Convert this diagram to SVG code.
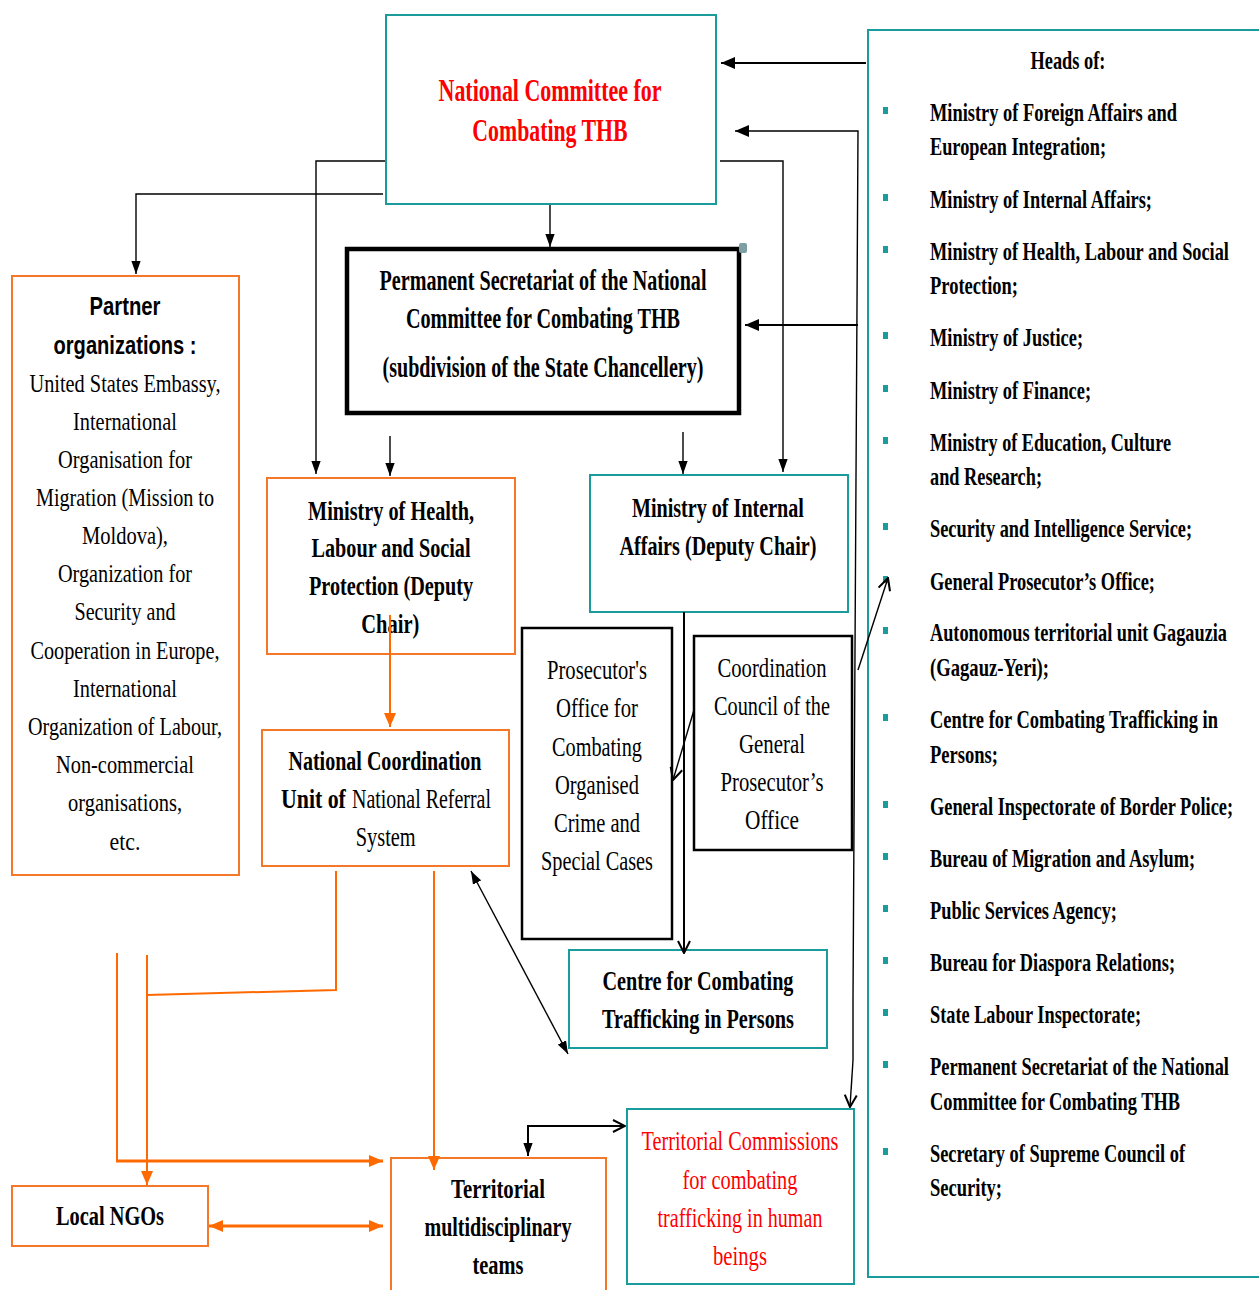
<svg xmlns="http://www.w3.org/2000/svg" width="1259" height="1290" viewBox="0 0 1259 1290">
<style>
text{font-family:"Liberation Serif","Times New Roman",serif;}
.b{font-weight:bold;}
.c{text-anchor:middle;}
.sans{font-family:"Liberation Sans",Arial,sans-serif;font-weight:bold;}
.red{fill:#ff0000;}
.teal{fill:#fff;stroke:#1a9c9c;stroke-width:2;}
.org{fill:#fff;stroke:#f5782a;stroke-width:2;}
.blk{fill:#fff;stroke:#000;stroke-width:2.5;}
.bul{fill:#1a9c9c;}
.k{stroke:#000;fill:none;stroke-width:2;}
.k1{stroke:#000;fill:none;stroke-width:1.4;}
.o{stroke:#ff6a00;fill:none;stroke-width:2;}
.o3{stroke:#ff6a00;fill:none;stroke-width:3;}
</style>
<defs>
<marker id="ab" viewBox="0 0 14 12" refX="14" refY="6" markerWidth="14" markerHeight="12" markerUnits="userSpaceOnUse" orient="auto-start-reverse"><path d="M0,0 L14,6 L0,12 z" fill="#000"/></marker>
<marker id="abs" viewBox="0 0 14 10" refX="14" refY="5" markerWidth="13" markerHeight="10" markerUnits="userSpaceOnUse" orient="auto-start-reverse"><path d="M0,0 L14,5 L0,10 z" fill="#000"/></marker>
<marker id="av" viewBox="0 0 14 14" refX="13" refY="7" markerWidth="14" markerHeight="14" markerUnits="userSpaceOnUse" orient="auto"><path d="M1,1 L13,7 L1,13" fill="none" stroke="#000" stroke-width="2"/></marker>
<marker id="ao" viewBox="0 0 14 12" refX="14" refY="6" markerWidth="14" markerHeight="12" markerUnits="userSpaceOnUse" orient="auto-start-reverse"><path d="M0,0 L14,6 L0,12 z" fill="#ff6a00"/></marker>
</defs>

<g id="national-committee">
<rect class="teal" x="386" y="15" width="330" height="189"/>
<g class="b c red" font-size="32" transform="matrix(0.69 0 0 1 170.5 0)">
<text x="550" y="101" textLength="323" lengthAdjust="spacingAndGlyphs">National Committee for</text>
<text x="550" y="141" textLength="225" lengthAdjust="spacingAndGlyphs">Combating THB</text>
</g>
</g>

<g id="permanent-secretariat">
<rect x="347" y="249" width="392" height="164" fill="#fff" stroke="#000" stroke-width="4.5"/>
<rect x="739" y="243" width="8" height="10" rx="2" fill="#7d9fa3"/>
<g class="b c" font-size="30" transform="matrix(0.67 0 0 1 179.2 0)">
<text x="543" y="290" textLength="488" lengthAdjust="spacingAndGlyphs">Permanent Secretariat of the National</text>
<text x="543" y="328" textLength="409" lengthAdjust="spacingAndGlyphs">Committee for Combating THB</text>
<text x="543" y="377" textLength="479" lengthAdjust="spacingAndGlyphs">(subdivision of the State Chancellery)</text>
</g>
</g>

<g id="heads-of">
<rect class="teal" x="868" y="30" width="400" height="1247"/>
<text class="b c" x="1068" y="69" font-size="26" transform="matrix(0.7 0 0 1 320.4 0)" textLength="107" lengthAdjust="spacingAndGlyphs">Heads of:</text>
<g class="bul">
<rect x="883" y="107" width="5" height="7"/><rect x="883" y="194" width="5" height="7"/><rect x="883" y="246" width="5" height="7"/><rect x="883" y="332" width="5" height="7"/><rect x="883" y="385" width="5" height="7"/><rect x="883" y="437" width="5" height="7"/><rect x="883" y="523" width="5" height="7"/><rect x="883" y="576" width="5" height="7"/><rect x="883" y="627" width="5" height="7"/><rect x="883" y="714" width="5" height="7"/><rect x="883" y="801" width="5" height="7"/><rect x="883" y="853" width="5" height="7"/><rect x="883" y="905" width="5" height="7"/><rect x="883" y="957" width="5" height="7"/><rect x="883" y="1009" width="5" height="7"/><rect x="883" y="1061" width="5" height="7"/><rect x="883" y="1148" width="5" height="7"/>
</g>
<g class="b" font-size="26" transform="matrix(0.7 0 0 1 279 0)">
<text x="930" y="121" textLength="352.9" lengthAdjust="spacingAndGlyphs">Ministry of Foreign Affairs and</text>
<text x="930" y="155" textLength="251.4" lengthAdjust="spacingAndGlyphs">European Integration;</text>
<text x="930" y="208" textLength="317.1" lengthAdjust="spacingAndGlyphs">Ministry of Internal Affairs;</text>
<text x="930" y="260" textLength="427.1" lengthAdjust="spacingAndGlyphs">Ministry of Health, Labour and Social</text>
<text x="930" y="294" textLength="125.7" lengthAdjust="spacingAndGlyphs">Protection;</text>
<text x="930" y="346" textLength="218.6" lengthAdjust="spacingAndGlyphs">Ministry of Justice;</text>
<text x="930" y="399" textLength="230" lengthAdjust="spacingAndGlyphs">Ministry of Finance;</text>
<text x="930" y="451" textLength="344.3" lengthAdjust="spacingAndGlyphs">Ministry of Education, Culture</text>
<text x="930" y="485" textLength="160" lengthAdjust="spacingAndGlyphs">and Research;</text>
<text x="930" y="537" textLength="374.3" lengthAdjust="spacingAndGlyphs">Security and Intelligence Service;</text>
<text x="930" y="590" textLength="321.4" lengthAdjust="spacingAndGlyphs">General Prosecutor’s Office;</text>
<text x="930" y="641" textLength="424.3" lengthAdjust="spacingAndGlyphs">Autonomous territorial unit Gagauzia</text>
<text x="930" y="676" textLength="170" lengthAdjust="spacingAndGlyphs">(Gagauz-Yeri);</text>
<text x="930" y="728" textLength="411.4" lengthAdjust="spacingAndGlyphs">Centre for Combating Trafficking in</text>
<text x="930" y="763" textLength="97.1" lengthAdjust="spacingAndGlyphs">Persons;</text>
<text x="930" y="815" textLength="432.9" lengthAdjust="spacingAndGlyphs">General Inspectorate of Border Police;</text>
<text x="930" y="867" textLength="378.6" lengthAdjust="spacingAndGlyphs">Bureau of Migration and Asylum;</text>
<text x="930" y="919" textLength="267.1" lengthAdjust="spacingAndGlyphs">Public Services Agency;</text>
<text x="930" y="971" textLength="350" lengthAdjust="spacingAndGlyphs">Bureau for Diaspora Relations;</text>
<text x="930" y="1023" textLength="301.4" lengthAdjust="spacingAndGlyphs">State Labour Inspectorate;</text>
<text x="930" y="1075" textLength="427.1" lengthAdjust="spacingAndGlyphs">Permanent Secretariat of the National</text>
<text x="930" y="1110" textLength="357.1" lengthAdjust="spacingAndGlyphs">Committee for Combating THB</text>
<text x="930" y="1162" textLength="364.3" lengthAdjust="spacingAndGlyphs">Secretary of Supreme Council of</text>
<text x="930" y="1196" textLength="102.9" lengthAdjust="spacingAndGlyphs">Security;</text>
</g>
</g>

<g id="partner-organizations">
<rect class="org" x="12" y="276" width="227" height="599"/>
<g class="c" font-size="25" transform="matrix(0.8 0 0 1 25 0)">
<text class="sans" x="125" y="315" textLength="88.8" lengthAdjust="spacingAndGlyphs">Partner</text>
<text class="sans" x="125" y="354" textLength="178.8" lengthAdjust="spacingAndGlyphs">organizations :</text>
</g>
<g class="c" font-size="26" transform="matrix(0.78 0 0 1 27.5 0)">
<text x="125" y="392" textLength="244.9" lengthAdjust="spacingAndGlyphs">United States Embassy,</text>
<text x="125" y="430" textLength="133.3" lengthAdjust="spacingAndGlyphs">International</text>
<text x="125" y="468" textLength="171.8" lengthAdjust="spacingAndGlyphs">Organisation for</text>
<text x="125" y="506" textLength="228.2" lengthAdjust="spacingAndGlyphs">Migration (Mission to</text>
<text x="125" y="544" textLength="110.3" lengthAdjust="spacingAndGlyphs">Moldova),</text>
<text x="125" y="582" textLength="171.8" lengthAdjust="spacingAndGlyphs">Organization for</text>
<text x="125" y="620" textLength="129.5" lengthAdjust="spacingAndGlyphs">Security and</text>
<text x="125" y="659" textLength="242.3" lengthAdjust="spacingAndGlyphs">Cooperation in Europe,</text>
<text x="125" y="697" textLength="133.3" lengthAdjust="spacingAndGlyphs">International</text>
<text x="125" y="735" textLength="248.7" lengthAdjust="spacingAndGlyphs">Organization of Labour,</text>
<text x="125" y="773" textLength="176.9" lengthAdjust="spacingAndGlyphs">Non-commercial</text>
<text x="125" y="811" textLength="146.2" lengthAdjust="spacingAndGlyphs">organisations,</text>
<text x="125" y="850" textLength="39.7" lengthAdjust="spacingAndGlyphs">etc.</text>
</g>
</g>

<g id="ministry-health">
<rect class="org" x="267" y="478" width="248" height="176"/>
<g class="b c" font-size="28" transform="matrix(0.72 0 0 1 109.5 0)">
<text x="391" y="520" textLength="230.6" lengthAdjust="spacingAndGlyphs">Ministry of Health,</text>
<text x="391" y="557" textLength="220.8" lengthAdjust="spacingAndGlyphs">Labour and Social</text>
<text x="391" y="595" textLength="227.8" lengthAdjust="spacingAndGlyphs">Protection (Deputy</text>
<text x="390" y="633" textLength="80.6" lengthAdjust="spacingAndGlyphs">Chair)</text>
</g>
</g>

<g id="ministry-internal">
<rect class="teal" x="590" y="475" width="258" height="137"/>
<g class="b c" font-size="28" transform="matrix(0.72 0 0 1 201 0)">
<text x="718" y="517" textLength="238.9" lengthAdjust="spacingAndGlyphs">Ministry of Internal</text>
<text x="718" y="555" textLength="273.6" lengthAdjust="spacingAndGlyphs">Affairs (Deputy Chair)</text>
</g>
</g>

<g id="prosecutors-office">
<rect class="blk" x="522" y="628" width="150" height="311"/>
<g class="c" font-size="27" transform="matrix(0.75 0 0 1 149.25 0)">
<text x="597" y="679" textLength="133.3" lengthAdjust="spacingAndGlyphs">Prosecutor's</text>
<text x="597" y="717" textLength="109.3" lengthAdjust="spacingAndGlyphs">Office for</text>
<text x="597" y="756" textLength="120" lengthAdjust="spacingAndGlyphs">Combating</text>
<text x="597" y="794" textLength="112" lengthAdjust="spacingAndGlyphs">Organised</text>
<text x="597" y="832" textLength="114.7" lengthAdjust="spacingAndGlyphs">Crime and</text>
<text x="597" y="870" textLength="149.3" lengthAdjust="spacingAndGlyphs">Special Cases</text>
</g>
</g>

<g id="coordination-council">
<rect class="blk" x="694" y="636" width="158" height="214" stroke-width="2"/>
<g class="c" font-size="27" transform="matrix(0.76 0 0 1 185.3 0)">
<text x="772" y="677" textLength="143.4" lengthAdjust="spacingAndGlyphs">Coordination</text>
<text x="772" y="715" textLength="152.6" lengthAdjust="spacingAndGlyphs">Council of the</text>
<text x="772" y="753" textLength="86.8" lengthAdjust="spacingAndGlyphs">General</text>
<text x="772" y="791" textLength="135.5" lengthAdjust="spacingAndGlyphs">Prosecutor’s</text>
<text x="772" y="829" textLength="71.1" lengthAdjust="spacingAndGlyphs">Office</text>
</g>
</g>

<g id="national-coordination-unit">
<rect class="org" x="262" y="730" width="247" height="136"/>
<g font-size="28" transform="matrix(0.72 0 0 1 107.8 0)">
<text class="b c" x="385" y="770" textLength="268.1" lengthAdjust="spacingAndGlyphs">National Coordination</text>
<text class="b" x="240.6" y="808" textLength="90" lengthAdjust="spacingAndGlyphs">Unit  of</text>
<text x="339.2" y="808" textLength="193" lengthAdjust="spacingAndGlyphs">National Referral</text>
<text class="c" x="386" y="846" textLength="83.3" lengthAdjust="spacingAndGlyphs">System</text>
</g>
</g>

<g id="centre-combating">
<rect class="teal" x="569" y="950" width="258" height="98"/>
<g class="b c" font-size="28" transform="matrix(0.72 0 0 1 195.4 0)">
<text x="698" y="990" textLength="265.3" lengthAdjust="spacingAndGlyphs">Centre for Combating</text>
<text x="698" y="1028" textLength="266.7" lengthAdjust="spacingAndGlyphs">Trafficking in Persons</text>
</g>
</g>

<g id="territorial-commissions">
<rect class="teal" x="627" y="1109" width="227" height="175"/>
<g class="c red" font-size="27" transform="matrix(0.74 0 0 1 192.4 0)">
<text x="740" y="1150" textLength="266.2" lengthAdjust="spacingAndGlyphs">Territorial Commissions</text>
<text x="740" y="1189" textLength="155.4" lengthAdjust="spacingAndGlyphs">for combating</text>
<text x="740" y="1227" textLength="223" lengthAdjust="spacingAndGlyphs">trafficking in human</text>
<text x="740" y="1265" textLength="73" lengthAdjust="spacingAndGlyphs">beings</text>
</g>
</g>

<g id="territorial-teams">
<rect class="org" x="391" y="1158" width="215" height="140"/>
<g class="b c" font-size="28" transform="matrix(0.72 0 0 1 139.4 0)">
<text x="498" y="1198" textLength="130.6" lengthAdjust="spacingAndGlyphs">Territorial</text>
<text x="498" y="1236" textLength="204.2" lengthAdjust="spacingAndGlyphs">multidisciplinary</text>
<text x="498" y="1274" textLength="70.8" lengthAdjust="spacingAndGlyphs">teams</text>
</g>
</g>

<g id="local-ngos">
<rect class="org" x="12" y="1186" width="196" height="60"/>
<text class="b c" x="110" y="1225" font-size="28" transform="matrix(0.72 0 0 1 30.8 0)" textLength="150" lengthAdjust="spacingAndGlyphs">Local NGOs</text>
</g>

<g id="connectors">
<line class="k" x1="866" y1="63" x2="721" y2="63" marker-end="url(#ab)"/>
<polyline class="k1" points="853,1060 853,1000 858,131 735,131" marker-end="url(#ab)"/>
<line class="k1" x1="853" y1="1060" x2="850" y2="1107" marker-end="url(#av)"/>
<line class="k" x1="858" y1="325" x2="745" y2="325" marker-end="url(#ab)"/>
<polyline class="k1" points="720,161 783,161 783,472" marker-end="url(#abs)"/>
<polyline class="k1" points="385,161 316,161 316,474" marker-end="url(#abs)"/>
<polyline class="k1" points="383,194 136,194 136,274" marker-end="url(#abs)"/>
<line class="k1" x1="550" y1="205" x2="550" y2="247" marker-end="url(#abs)"/>
<line class="k1" x1="390" y1="436" x2="390" y2="476" marker-end="url(#abs)"/>
<line class="k1" x1="683" y1="432" x2="683" y2="474" marker-end="url(#abs)"/>
<line class="k" x1="684" y1="612" x2="684" y2="953" marker-end="url(#av)"/>
<line class="k1" x1="694" y1="710" x2="673" y2="780" marker-end="url(#av)"/>
<line class="k1" x1="858" y1="670" x2="888" y2="578" marker-end="url(#av)"/>
<line class="k1" x1="471" y1="871" x2="568" y2="1054" marker-start="url(#abs)" marker-end="url(#abs)"/>
<polyline class="k" points="528,1126 625,1126" marker-end="url(#av)"/>
<line class="k" x1="528" y1="1125" x2="528" y2="1156" marker-end="url(#abs)"/>
<line class="o" x1="390" y1="615" x2="390" y2="727" marker-end="url(#ao)"/>
<polyline class="o" points="336,871 336,990 147,995"/>
<line class="o" x1="147" y1="955" x2="147" y2="1185" marker-end="url(#ao)"/>
<polyline class="o" points="117,953 117,1161"/>
<line class="o3" x1="116" y1="1161" x2="383" y2="1161" marker-end="url(#ao)"/>
<line class="o" x1="434" y1="871" x2="434" y2="1170" marker-end="url(#ao)"/>
<line class="o3" x1="209" y1="1226" x2="383" y2="1226" marker-start="url(#ao)" marker-end="url(#ao)"/>
</g>
</svg>
